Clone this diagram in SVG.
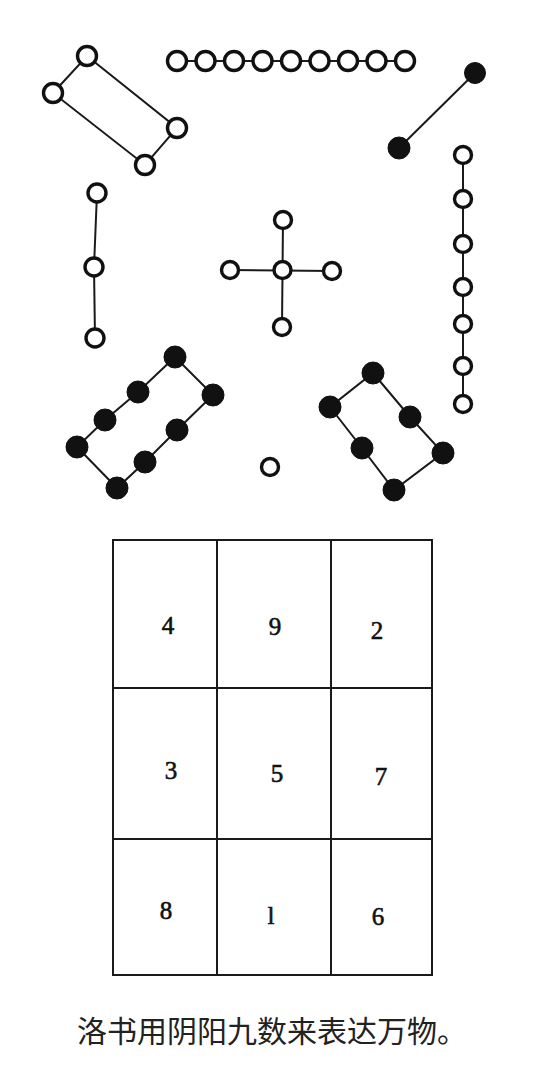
<svg xmlns="http://www.w3.org/2000/svg" width="535" height="1087" viewBox="0 0 535 1087">
<style>
.w{fill:#fff;stroke:#111;stroke-width:3.4}
.b{fill:#111;stroke:#111;stroke-width:1}
.ln{stroke:#1a1a1a;stroke-width:2;fill:none}
.grid{stroke:#1a1a1a;stroke-width:2;fill:none}
.num{font-family:"Liberation Serif","Times New Roman",serif;font-size:25px;fill:#111;stroke:#111;stroke-width:0.6;text-anchor:middle}
.cap{font-family:"Noto Sans CJK SC","Noto Sans",sans-serif;font-size:30px;fill:#222}
</style>
<rect width="535" height="1087" fill="#fff"/>
<g id="connectors" class="ln">
  <polygon points="87,56 177,128 145,165 53,93"/>
  <line x1="177" y1="61" x2="405" y2="61"/>
  <line x1="475" y1="73" x2="399" y2="148"/>
  <polyline points="97,193 94,267 95,338"/>
  <line x1="283" y1="220" x2="282" y2="327"/>
  <line x1="230" y1="270" x2="332" y2="271"/>
  <line x1="463" y1="155" x2="463" y2="404"/>
  <polygon points="175,357 213,395 177,430 145,462 117,488 77,447 105,420 138,392"/>
  <polygon points="373,373 410,417 443,453 394,490 362,448 330,407"/>
</g>
<g id="n4">
  <circle class="w" cx="87" cy="56" r="9.5"/>
  <circle class="w" cx="53" cy="93" r="9.5"/>
  <circle class="w" cx="177" cy="128" r="9.5"/>
  <circle class="w" cx="145" cy="165" r="9.5"/>
</g>
<g id="n9">
  <circle class="w" cx="177" cy="61" r="9.5"/>
  <circle class="w" cx="205.5" cy="61" r="9.5"/>
  <circle class="w" cx="234" cy="61" r="9.5"/>
  <circle class="w" cx="262.5" cy="61" r="9.5"/>
  <circle class="w" cx="291" cy="61" r="9.5"/>
  <circle class="w" cx="319.5" cy="61" r="9.5"/>
  <circle class="w" cx="348" cy="61" r="9.5"/>
  <circle class="w" cx="376.5" cy="61" r="9.5"/>
  <circle class="w" cx="405" cy="61" r="9.5"/>
</g>
<g id="n2">
  <circle class="b" cx="475" cy="73" r="10.5"/>
  <circle class="b" cx="399" cy="148" r="11"/>
</g>
<g id="n3">
  <circle class="w" cx="97" cy="193" r="9"/>
  <circle class="w" cx="94" cy="267" r="9"/>
  <circle class="w" cx="95" cy="338" r="9"/>
</g>
<g id="n5">
  <circle class="w" cx="283" cy="220" r="8.5"/>
  <circle class="w" cx="230" cy="270" r="8.5"/>
  <circle class="w" cx="282.5" cy="270" r="8.5"/>
  <circle class="w" cx="332" cy="271" r="8.5"/>
  <circle class="w" cx="282" cy="327" r="8.5"/>
</g>
<g id="n7">
  <circle class="w" cx="463" cy="155" r="8.5"/>
  <circle class="w" cx="463" cy="199" r="8.5"/>
  <circle class="w" cx="463" cy="244" r="8.5"/>
  <circle class="w" cx="463" cy="287" r="8.5"/>
  <circle class="w" cx="463" cy="324" r="8.5"/>
  <circle class="w" cx="463" cy="366" r="8.5"/>
  <circle class="w" cx="463" cy="404" r="8.5"/>
</g>
<g id="n8">
  <circle class="b" cx="175" cy="357" r="11"/>
  <circle class="b" cx="213" cy="395" r="11"/>
  <circle class="b" cx="177" cy="430" r="11"/>
  <circle class="b" cx="145" cy="462" r="11"/>
  <circle class="b" cx="117" cy="488" r="11"/>
  <circle class="b" cx="77" cy="447" r="11"/>
  <circle class="b" cx="105" cy="420" r="11"/>
  <circle class="b" cx="138" cy="392" r="11"/>
</g>
<g id="n1">
  <circle class="w" cx="270" cy="467" r="8.5"/>
</g>
<g id="n6">
  <circle class="b" cx="373" cy="373" r="11"/>
  <circle class="b" cx="330" cy="407" r="11"/>
  <circle class="b" cx="362" cy="448" r="11"/>
  <circle class="b" cx="394" cy="490" r="11"/>
  <circle class="b" cx="443" cy="453" r="11"/>
  <circle class="b" cx="410" cy="417" r="11"/>
</g>
<g id="grid">
  <rect class="grid" x="113" y="540" width="319" height="435"/>
  <line class="grid" x1="217" y1="540" x2="217" y2="975"/>
  <line class="grid" x1="331" y1="540" x2="331" y2="975"/>
  <line class="grid" x1="113" y1="688" x2="432" y2="688"/>
  <line class="grid" x1="113" y1="839" x2="432" y2="839"/>
  <text class="num" x="168" y="634">4</text>
  <text class="num" x="275" y="635">9</text>
  <text class="num" x="377" y="639">2</text>
  <text class="num" x="171" y="779">3</text>
  <text class="num" x="277" y="782">5</text>
  <text class="num" x="381" y="785">7</text>
  <text class="num" x="166" y="919">8</text>
  <text class="num" x="271" y="924">l</text>
  <text class="num" x="378" y="925">6</text>
</g>
<text class="cap" x="77" y="1042">洛书用阴阳九数来表达万物。</text>
</svg>
